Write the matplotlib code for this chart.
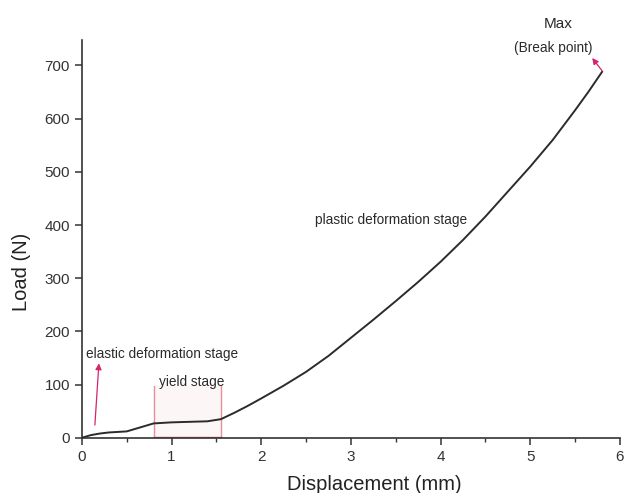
import matplotlib
matplotlib.use("Agg")
import matplotlib.pyplot as plt
from matplotlib.ticker import MultipleLocator

plt.rcParams['font.family'] = ['Liberation Sans', 'DejaVu Sans']

displacement = [0, 0.1, 0.2, 0.3, 0.5, 0.6, 0.8, 1.0, 1.2, 1.4, 1.55, 1.7, 1.85, 2.0,
                2.25, 2.5, 2.75, 3.0, 3.25, 3.5, 3.75, 4.0, 4.25, 4.5, 4.75, 5.0,
                5.25, 5.5, 5.65, 5.8]
load = [0, 5, 8, 10, 12, 17, 27, 29, 30, 31, 35, 47, 60, 74,
        98, 124, 154, 188, 222, 257, 293, 331, 372, 416, 463, 510,
        560, 616, 651, 688]

yield_bounds = [0.8, 1.55]
yield_top = 97

x_ticks = [0, 1, 2, 3, 4, 5, 6]
y_ticks = [0, 100, 200, 300, 400, 500, 600, 700]

fig = plt.figure(figsize=(6.25, 4.93), dpi=100)
ax = fig.add_axes([0.131, 0.112, 0.861, 0.807])

ax.plot(displacement, load, color='#2b2b2b', lw=1.4, zorder=3)

pink = '#e8909a'
for xb in yield_bounds:
    ax.plot([xb, xb], [0, yield_top], color=pink, lw=1.0, zorder=2)
ax.fill_between(yield_bounds, [0, 0], [yield_top, yield_top], color='#fbeef0', alpha=0.5, zorder=1)
ax.plot(yield_bounds, [1, 1], color='#e06070', lw=1.0, zorder=2)

ax.set_xlim(0, 6)
ax.set_ylim(0, 748)
ax.set_xticks(x_ticks)
ax.set_yticks(y_ticks)
ax.xaxis.set_minor_locator(MultipleLocator(0.5))
for s in ['top', 'right']:
    ax.spines[s].set_visible(False)
for s in ['left', 'bottom']:
    ax.spines[s].set_color('#333333')
    ax.spines[s].set_linewidth(1.2)
ax.tick_params(axis='both', which='major', direction='out', length=5, width=1.1,
               color='#333333', labelsize=11, labelcolor='#333333')
ax.tick_params(axis='x', which='minor', direction='out', length=3, width=1.0, color='#333333')

ax.set_xlabel('Displacement (mm)', fontsize=14.5, color='#222222')
ax.set_ylabel('Load (N)', fontsize=14.5, color='#222222')
ax.xaxis.set_label_coords(0.543, -0.093)
ax.yaxis.set_label_coords(-0.095, 0.417)

tc = '#2a2a2a'
ax.text(0.045, 158, 'elastic deformation stage', fontsize=9.8, color=tc, va='center')
ax.text(0.86, 105, 'yield stage', fontsize=9.8, color=tc, va='center')
ax.text(2.6, 410, 'plastic deformation stage', fontsize=9.8, color=tc, va='center')
ax.text(5.31, 778, 'Max', fontsize=11, color=tc, ha='center', va='center', clip_on=False)
ax.text(5.26, 733, '(Break point)', fontsize=9.8, color=tc, ha='center', va='center', clip_on=False)

ax.annotate('', xy=(0.19, 140), xytext=(0.145, 24),
            arrowprops=dict(arrowstyle='-|>', color='#d6246e', lw=0.9, mutation_scale=9,
                            shrinkA=0, shrinkB=0))
ax.annotate('', xy=(5.69, 714), xytext=(5.8, 690),
            arrowprops=dict(arrowstyle='-|>', color='#d6246e', lw=0.9, mutation_scale=9,
                            shrinkA=0, shrinkB=0), annotation_clip=False)

fig.savefig('out.png', dpi=100)
